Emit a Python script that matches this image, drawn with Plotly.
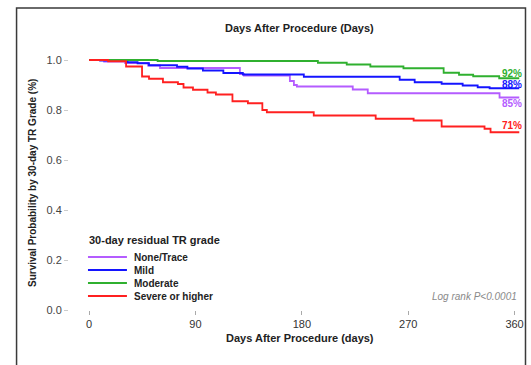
import plotly.graph_objects as go

# ---------------- data ----------------
groups = ["None/Trace", "Mild", "Moderate", "Severe or higher"]
colors = ["#b45cff", "#1414ff", "#2fb02f", "#ff2020"]

none_days = [0, 12.7, 30.5, 49.9, 60.0, 127.6, 131.0, 169.9, 173.3, 175.8, 223.1, 235.8, 347.3, 364]
none_surv = [1.0, 0.994, 0.988, 0.978, 0.968, 0.944, 0.938, 0.916, 0.900, 0.894, 0.882, 0.867, 0.850, 0.850]

mild_days = [0, 9.3, 32.5, 41.0, 50.7, 74.4, 83.2, 96.3, 113.6, 130.1, 181.7, 262.8, 275.5, 298.3, 316.1, 328.8, 338.9, 364]
mild_surv = [1.0, 0.998, 0.991, 0.987, 0.979, 0.973, 0.966, 0.958, 0.948, 0.942, 0.933, 0.921, 0.911, 0.905, 0.898, 0.891, 0.887, 0.887]

mod_days = [0, 58, 193.6, 218, 238, 266, 300, 313, 325, 347, 364]
mod_surv = [1.0, 0.996, 0.989, 0.982, 0.974, 0.967, 0.949, 0.941, 0.935, 0.927, 0.927]

sev_days = [0, 16.1, 31.3, 44.8, 50.7, 62.5, 75.2, 79.9, 87.9, 100.2, 107.3, 121.3, 134.4, 146.6, 150.4, 190.1, 242.5, 274.6, 298.3, 334.6, 339.7, 364]
sev_surv = [1.0, 0.995, 0.974, 0.934, 0.925, 0.911, 0.904, 0.890, 0.881, 0.870, 0.862, 0.835, 0.827, 0.800, 0.791, 0.778, 0.765, 0.758, 0.734, 0.725, 0.711, 0.711]

end_labels = ["85%", "88%", "92%", "71%"]
end_label_y = [0.826, 0.902, 0.946, 0.738]

x_ticks = [0, 90, 180, 270, 360]
y_ticks = [0.0, 0.2, 0.4, 0.6, 0.8, 1.0]

series = [(none_days, none_surv), (mild_days, mild_surv), (mod_days, mod_surv), (sev_days, sev_surv)]

# ---------------- layout geometry ----------------
W, H = 531, 365
ML, MR, MT, MB = 69, 6.5, 45, 55
PW, PH = W - ML - MR, H - MT - MB
FONT = "Arial, Liberation Sans, sans-serif"

def px(x):
    return (x - ML) / PW

def py(y):
    return (H - MB - y) / PH

fig = go.Figure()
for (d, s), name, c in zip(series, groups, colors):
    fig.add_trace(go.Scatter(x=d, y=s, mode="lines", name=name,
                             line=dict(color=c, width=1.8, shape="hv"),
                             showlegend=False))

annotations = []
# end percentage labels
for lab, yv, c in zip(end_labels, end_label_y, colors):
    annotations.append(dict(x=357.5, y=yv, xref="x", yref="y", text="<b>" + lab + "</b>",
                            showarrow=False, font=dict(family=FONT, size=10, color=c),
                            xanchor="center", yanchor="middle"))

# titles
annotations.append(dict(x=px(300), y=py(28), xref="paper", yref="paper",
                        text="<b>Days After Procedure (Days)</b>", showarrow=False,
                        font=dict(family=FONT, size=11, color="#222"), xanchor="center", yanchor="middle"))
annotations.append(dict(x=px(300), y=py(338), xref="paper", yref="paper",
                        text="<b>Days After Procedure (days)</b>", showarrow=False,
                        font=dict(family=FONT, size=11, color="#222"), xanchor="center", yanchor="middle"))
annotations.append(dict(x=px(32), y=py(183), xref="paper", yref="paper", textangle=-90,
                        text="<b>Survival Probability by 30-day TR Grade (%)</b>", showarrow=False,
                        font=dict(family=FONT, size=10, color="#222"), xanchor="center", yanchor="middle"))
annotations.append(dict(x=px(519), y=py(296), xref="paper", yref="paper",
                        text="<i>Log rank P&lt;0.0001</i>", showarrow=False,
                        font=dict(family=FONT, size=10, color="#8a8a8a"), xanchor="right", yanchor="middle"))

# custom legend
annotations.append(dict(x=px(87), y=py(240), xref="paper", yref="paper",
                        text="<b>30-day residual TR grade</b>", showarrow=False,
                        font=dict(family=FONT, size=11, color="#222"), xanchor="left", yanchor="middle"))
shapes = []
for i, (name, c) in enumerate(zip(groups, colors)):
    yy = 257 + 13 * i
    shapes.append(dict(type="line", xref="paper", yref="paper", x0=px(88), x1=px(127),
                       y0=py(yy), y1=py(yy), line=dict(color=c, width=1.8)))
    annotations.append(dict(x=px(132), y=py(yy), xref="paper", yref="paper",
                            text="<b>" + name + "</b>", showarrow=False,
                            font=dict(family=FONT, size=10, color="#222"), xanchor="left", yanchor="middle"))

# frame
shapes.append(dict(type="rect", xref="paper", yref="paper", x0=px(16.5), x1=px(526),
                   y0=py(372), y1=py(8), line=dict(color="#3a3a3a", width=1.5)))

fig.update_layout(
    width=W, height=H,
    margin=dict(l=ML, r=MR, t=MT, b=MB),
    paper_bgcolor="white", plot_bgcolor="white",
    showlegend=False,
    annotations=annotations,
    shapes=shapes,
    xaxis=dict(range=[-17, 368], tickvals=x_ticks, ticks="outside", ticklen=4, tickcolor="#aaa",
               showgrid=False, zeroline=False, showline=False,
               tickfont=dict(family=FONT, size=11, color="#333")),
    yaxis=dict(range=[0, 1.06], tickvals=y_ticks, tickformat=".1f", ticks="outside", ticklen=4,
               tickcolor="#ccc", showgrid=False, zeroline=False, showline=False,
               tickfont=dict(family=FONT, size=11, color="#444")),
)

fig.write_html("out.html")
